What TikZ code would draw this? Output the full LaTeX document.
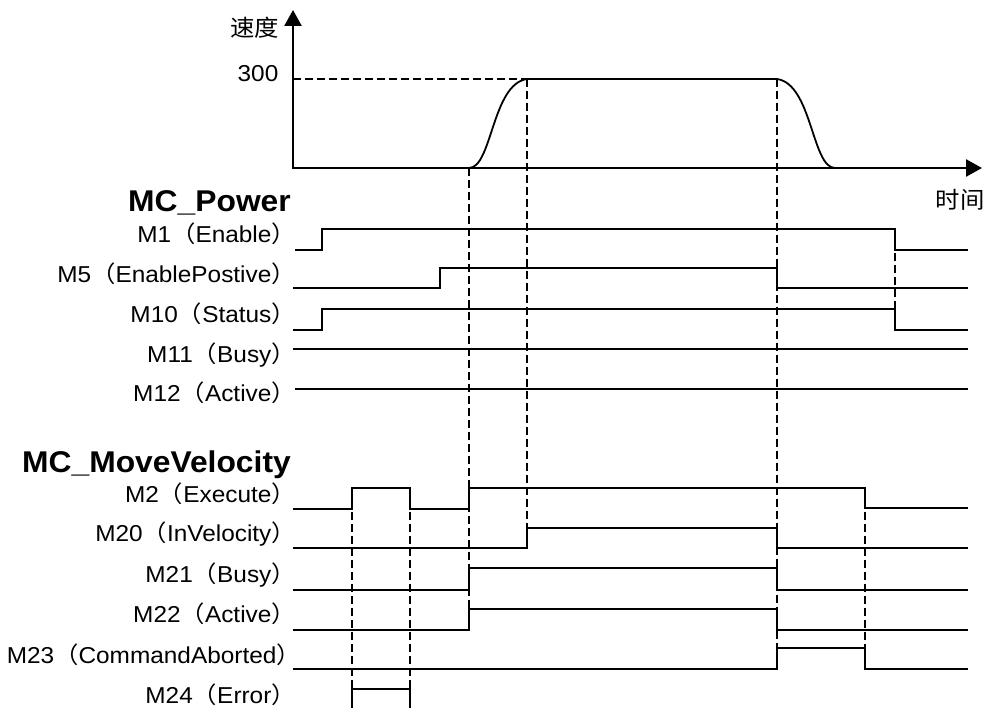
\documentclass[tikz,border=0pt]{standalone}
\usepackage{fontspec}
\setmainfont{Liberation Sans}
\newfontfamily\cjk{Noto Sans CJK SC}
\usetikzlibrary{arrows.meta}
\newcommand\LP{{\cjk （}}
\newcommand\RP{{\cjk ）}}
\newcommand\wide[1]{\scalebox{1.06}[1]{#1}}
\begin{document}
\begin{tikzpicture}[x=1pt,y=-1pt,
  sig/.style={line width=1.8pt},
  dsh/.style={line width=1.8pt, dash pattern=on 8pt off 4pt},
  axisline/.style={line width=2.5pt, {Triangle[length=16pt,width=17pt]}-{Triangle[length=16pt,width=17pt]}},
  lab/.style={anchor=base east, inner sep=0pt, font=\fontsize{23}{23}\selectfont},
  ttl/.style={anchor=base east, inner sep=0pt, font=\fontsize{30}{30}\selectfont\bfseries},
  axtxt/.style={inner sep=0pt, font=\fontsize{23}{23}\selectfont}]
\useasboundingbox (0,0) rectangle (989,708);
% dashed guides
\draw[dsh] (293,79) -- (527,79);
\draw[dsh] (469,168) -- (469,630);
\draw[dsh] (527,79) -- (527,528);
\draw[dsh] (777,79) -- (777,669);
\draw[dsh] (865,488) -- (865,669);
\draw[dsh] (895,229) -- (895,330);
\draw[dsh] (352,488) -- (352,708);
\draw[dsh] (410,488) -- (410,708);
% axes
\draw[axisline] (293,10) -- (293,168) -- (982,168);
\node[axtxt] (vlab) at (254.5,28) {\wide{\cjk 速度}};
\node[axtxt] (v300) at (258,74) {\wide{300}};
\node[axtxt] (tlab) at (960,200) {\wide{\cjk 时间}};
% velocity profile
\draw[sig] (469,168) .. controls (492,168) and (492,84) .. (527,79) -- (777,79)
  .. controls (812,84) and (812,168) .. (835,168);
% titles
\node[ttl] (tpow) at (291,212) {\wide{MC\_Power}};
\node[ttl] (tmv) at (291,473) {\wide{MC\_MoveVelocity}};
% labels
\node[lab] (l1) at (296,243) {\wide{M1\LP Enable\RP}};
\node[lab] (l5) at (296,283) {\wide{M5\LP EnablePostive\RP}};
\node[lab] (l10) at (296,323) {\wide{M10\LP Status\RP}};
\node[lab] (l11) at (296,363) {\wide{M11\LP Busy\RP}};
\node[lab] (l12) at (296,402) {\wide{M12\LP Active\RP}};
\node[lab] (l2) at (296,503) {\wide{M2\LP Execute\RP}};
\node[lab] (l20) at (296,542) {\wide{M20\LP InVelocity\RP}};
\node[lab] (l21) at (296,583) {\wide{M21\LP Busy\RP}};
\node[lab] (l22) at (296,623) {\wide{M22\LP Active\RP}};
\node[lab] (l23) at (301,663) {\wide{M23\LP CommandAborted\RP}};
\node[lab] (l24) at (296,703) {\wide{M24\LP Error\RP}};
% signals MC_Power
\draw[sig] (295,250) -- (322,250) -- (322,229) -- (895,229) -- (895,250) -- (968,250);
\draw[sig] (293,288) -- (440,288) -- (440,268) -- (777,268) -- (777,288) -- (968,288);
\draw[sig] (293,330) -- (322,330) -- (322,309) -- (895,309) -- (895,330) -- (968,330);
\draw[sig] (293,349) -- (968,349);
\draw[sig] (295,389) -- (968,389);
% signals MC_MoveVelocity
\draw[sig] (293,509) -- (352,509) -- (352,488) -- (410,488) -- (410,509) -- (469,509)
  -- (469,488) -- (865,488) -- (865,508) -- (968,508);
\draw[sig] (293,548) -- (527,548) -- (527,528) -- (777,528) -- (777,548) -- (968,548);
\draw[sig] (293,590) -- (469,590) -- (469,568) -- (777,568) -- (777,590) -- (968,590);
\draw[sig] (293,630) -- (469,630) -- (469,609) -- (777,609) -- (777,630) -- (968,630);
\draw[sig] (293,669) -- (777,669) -- (777,648) -- (865,648) -- (865,669) -- (968,669);
\draw[sig] (352,710) -- (352,689) -- (410,689) -- (410,710);
\end{tikzpicture}
\end{document}
